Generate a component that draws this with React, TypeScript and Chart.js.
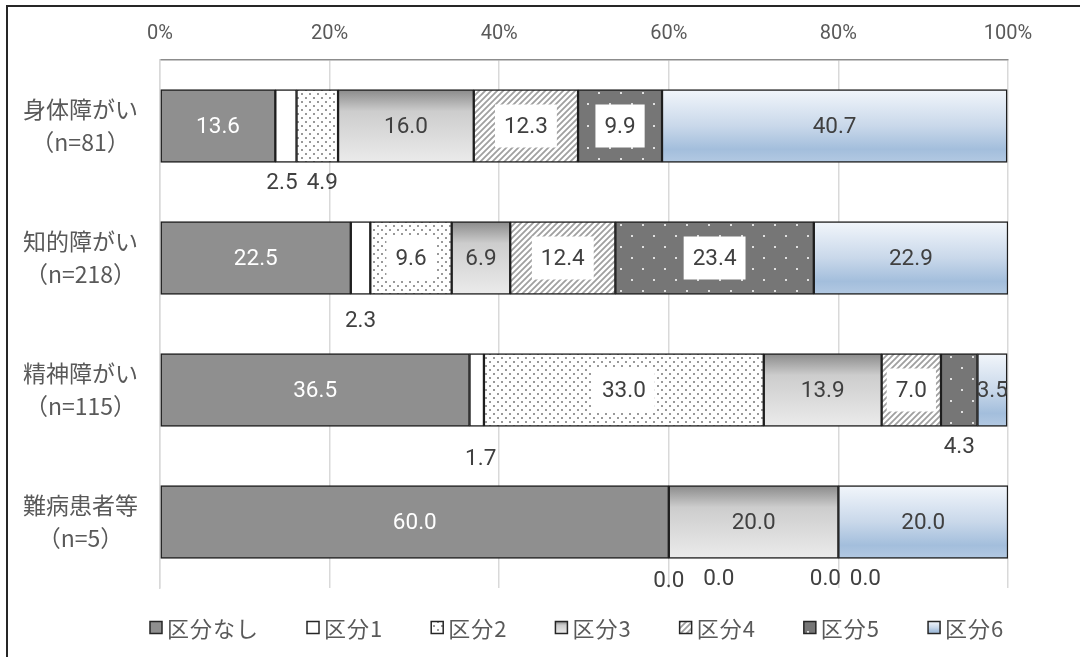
import { useEffect, useRef } from 'react';
import { Chart, registerables } from 'chart.js';

Chart.register(...registerables);

// ---- data ----
const categories: string[][] = [
  ['身体障がい', '（n=81）'],
  ['知的障がい', '（n=218）'],
  ['精神障がい', '（n=115）'],
  ['難病患者等', '（n=5）'],
];
const seriesNames = ['区分なし', '区分1', '区分2', '区分3', '区分4', '区分5', '区分6'];
const kubunNashi = [13.6, 22.5, 36.5, 60.0];
const kubun1 = [2.5, 2.3, 1.7, 0.0];
const kubun2 = [4.9, 9.6, 33.0, 0.0];
const kubun3 = [16.0, 6.9, 13.9, 20.0];
const kubun4 = [12.3, 12.4, 7.0, 0.0];
const kubun5 = [9.9, 23.4, 4.3, 0.0];
const kubun6 = [40.7, 22.9, 3.5, 20.0];
const seriesValues = [kubunNashi, kubun1, kubun2, kubun3, kubun4, kubun5, kubun6];
const xTickValues = [0, 20, 40, 60, 80, 100];
const tickSuffix = '%';

// ---- styling / placement (not data) ----
const BAR_THICKNESS = 73;
const BORDER = '#1e1e1e';
const TEXT = '#595959';
const LABEL_TEXT = '#404040';
const GRAY_STOPS: [number, string][] = [[0, '#8a8a8a'], [0.3, '#cdcdcd'], [1, '#ebebeb']];
const BLUE_STOPS: [number, string][] = [[0, '#f2f6fb'], [0.5, '#c9d8ea'], [0.82, '#a3bedc'], [1, '#b3c9e2']];
const BOXED_SERIES = [2, 4, 5];
const labelNudges: Record<string, [number, number]> = {
  '1-0': [-4, 0],
  '2-0': [5, 0],
  '1-1': [0, 6],
  '1-2': [4, 12],
  '1-3': [0, 2],
  '2-3': [50, 0],
  '4-3': [-13, 0],
  '5-3': [27, 0],
};

function makeTile(w: number, h: number, draw: (g: CanvasRenderingContext2D) => void) {
  const c = document.createElement('canvas');
  c.width = w;
  c.height = h;
  const g = c.getContext('2d')!;
  draw(g);
  return c;
}

function gradientFor(ctx: CanvasRenderingContext2D, top: number, bottom: number, stops: [number, string][]) {
  const g = ctx.createLinearGradient(0, top, 0, bottom);
  stops.forEach(([o, c]) => g.addColorStop(o, c));
  return g;
}

export default function App() {
  const canvasRef = useRef<HTMLCanvasElement | null>(null);

  useEffect(() => {
    const canvas = canvasRef.current!;
    const ctx = canvas.getContext('2d')!;

    const dotPattern = ctx.createPattern(
      makeTile(8, 8, (g) => {
        g.fillStyle = '#ffffff';
        g.fillRect(0, 0, 8, 8);
        g.fillStyle = '#999999';
        g.fillRect(1, 1, 2, 2);
        g.fillRect(5, 5, 2, 2);
      }),
      'repeat'
    )!;
    const hatchPattern = ctx.createPattern(
      makeTile(6, 6, (g) => {
        g.fillStyle = '#ffffff';
        g.fillRect(0, 0, 6, 6);
        g.strokeStyle = '#a0a0a0';
        g.lineWidth = 1.8;
        g.beginPath();
        g.moveTo(-1, 7);
        g.lineTo(7, -1);
        g.moveTo(-4, 4);
        g.lineTo(4, -4);
        g.moveTo(2, 10);
        g.lineTo(10, 2);
        g.stroke();
      }),
      'repeat'
    )!;
    const darkDotPattern = ctx.createPattern(
      makeTile(22, 22, (g) => {
        g.fillStyle = '#767676';
        g.fillRect(0, 0, 22, 22);
        g.fillStyle = '#e0e0e0';
        g.fillRect(4, 4, 2, 2);
        g.fillRect(15, 15, 2, 2);
      }),
      'repeat'
    )!;

    const barGradient = (stops: [number, string][]) => (c: any) => {
      const chart = c.chart;
      const y = chart.scales?.y;
      if (!y || !chart.chartArea) return stops[1][1];
      const center = y.getPixelForValue(c.dataIndex);
      return gradientFor(chart.ctx, center - BAR_THICKNESS / 2, center + BAR_THICKNESS / 2, stops);
    };

    const fills: any[] = [
      '#8f8f8f',
      '#ffffff',
      dotPattern,
      barGradient(GRAY_STOPS),
      hatchPattern,
      darkDotPattern,
      barGradient(BLUE_STOPS),
    ];

    const legendFill = (i: number, top: number, bottom: number): any => {
      if (i === 3) return gradientFor(ctx, top, bottom, GRAY_STOPS);
      if (i === 6) return gradientFor(ctx, top, bottom, BLUE_STOPS);
      return fills[i];
    };

    const framePlugin = {
      id: 'frame',
      beforeDraw(chart: any) {
        const c = chart.ctx;
        c.save();
        c.fillStyle = '#ffffff';
        c.fillRect(0, 0, chart.width, chart.height);
        c.fillStyle = '#262626';
        c.fillRect(6, 5, chart.width - 6, 2);
        c.fillRect(6, 5, 2, chart.height - 5);
        c.restore();
      },
    };

    const labelPlugin = {
      id: 'segmentLabels',
      afterDatasetsDraw(chart: any) {
        const c = chart.ctx as CanvasRenderingContext2D;
        c.save();
        c.font = '22.5px Roboto';
        c.textAlign = 'center';
        c.textBaseline = 'middle';
        const n = chart.data.datasets.length;
        chart.data.datasets.forEach((ds: any, di: number) => {
          const meta = chart.getDatasetMeta(di);
          meta.data.forEach((el: any, i: number) => {
            const v = ds.data[i] as number;
            const p = el.getProps(['x', 'y', 'base', 'height'], true);
            const text = v.toFixed(1);
            let cx = (p.x + p.base) / 2;
            let cy = p.y;
            const outside = v < 5 && di !== n - 1;
            if (outside) {
              const nudge = labelNudges[`${di}-${i}`] || [0, 0];
              cx += nudge[0];
              cy = p.y + p.height / 2 + 20 + nudge[1];
            } else if (BOXED_SERIES.includes(di)) {
              const w = c.measureText(text).width + 18;
              c.fillStyle = '#ffffff';
              c.fillRect(cx - w / 2, p.y - 21.5, w, 43);
            }
            c.fillStyle = !outside && di === 0 ? '#ffffff' : LABEL_TEXT;
            c.fillText(text, cx, cy + 1);
          });
        });
        c.restore();
      },
    };

    const legendPlugin = {
      id: 'patternLegend',
      afterDraw(chart: any) {
        const c = chart.ctx as CanvasRenderingContext2D;
        const area = chart.chartArea;
        c.save();
        c.font = '22px "Noto Sans CJK JP"';
        (c as any).letterSpacing = '1px';
        c.textAlign = 'left';
        c.textBaseline = 'middle';
        const box = 12;
        const gap = 5;
        const space = 48;
        const cy = area.bottom + 39.5;
        let x = area.left - 10;
        chart.data.datasets.forEach((ds: any, i: number) => {
          const top = cy - box / 2;
          c.fillStyle = legendFill(i, top, top + box);
          c.fillRect(x, top, box, box);
          c.strokeStyle = '#262626';
          c.lineWidth = 1.5;
          c.strokeRect(x, top, box, box);
          c.fillStyle = TEXT;
          c.fillText(ds.label, x + box + gap, cy + 1);
          x += box + gap + c.measureText(ds.label).width + space;
        });
        c.restore();
      },
    };

    const chart = new Chart(canvas, {
      type: 'bar',
      data: {
        labels: categories,
        datasets: seriesNames.map((name, i) => ({
          label: name,
          data: seriesValues[i],
          backgroundColor: fills[i],
          borderColor: BORDER,
          borderWidth: 1.5,
          borderSkipped: false,
          barThickness: BAR_THICKNESS,
        })),
      },
      options: {
        indexAxis: 'y',
        animation: false,
        responsive: false,
        maintainAspectRatio: false,
        events: [],
        layout: { padding: { left: 0, right: 72, top: 0, bottom: 69 } },
        plugins: {
          legend: { display: false },
          tooltip: { enabled: false },
        },
        scales: {
          x: {
            position: 'top',
            stacked: true,
            min: 0,
            max: 100,
            afterFit: (s: any) => {
              s.height = 60;
            },
            afterBuildTicks: (s: any) => {
              s.ticks = xTickValues.map((v) => ({ value: v }));
            },
            ticks: {
              padding: 14,
              color: TEXT,
              font: { family: 'Roboto', size: 20 },
              callback: (v: any) => `${v}${tickSuffix}`,
            },
            grid: { color: '#d9d9d9', lineWidth: 1.5, drawTicks: false },
            border: { display: true, color: '#8c8c8c', width: 1.5 },
          },
          y: {
            stacked: true,
            afterFit: (s: any) => {
              s.width = 160;
            },
            ticks: {
              crossAlign: 'center',
              padding: 22,
              color: TEXT,
              font: { family: '"Noto Sans CJK JP"', size: 23, lineHeight: 1.45 },
            },
            grid: { display: false, drawTicks: false },
            border: { display: true, color: '#d9d9d9', width: 1.5 },
          },
        },
      },
      plugins: [framePlugin, labelPlugin, legendPlugin],
    } as any);

    return () => {
      chart.destroy();
    };
  }, []);

  return (
    <div style={{ position: 'absolute', left: 0, top: 0, width: 1080, height: 657, background: '#ffffff' }}>
      <canvas ref={canvasRef} width={1080} height={657} style={{ display: 'block', width: 1080, height: 657 }} />
    </div>
  );
}
